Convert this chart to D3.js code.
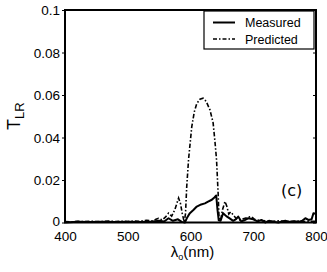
<!DOCTYPE html>
<html>
<head>
<meta charset="utf-8">
<script src="https://cdn.jsdelivr.net/npm/d3@7"></script>
<style>
  body { margin: 0; background: #fff; }
  svg { display: block; font-family: "Liberation Sans", Arial, sans-serif; }
  .axis path, .axis line { stroke: #000; }
  .tick text { font-size: 13.5px; fill: #000; }
</style>
</head>
<body>
<div id="chart"></div>
<script>
// wavelength (nm) and transmission values
const measuredX = [400, 420, 440, 460, 480, 500, 520, 540, 550, 558, 565, 572, 580, 586, 591, 595, 599, 605, 610, 617, 623, 628, 634, 638, 641, 643, 645, 648, 652, 657, 663, 668, 672, 676, 681, 687, 692, 700, 707, 713, 719, 725, 730, 735, 740, 746, 751, 758, 765, 772, 778, 783, 788, 793, 796, 800];
const measuredY = [0, 0.0003, 0.0002, 0.0004, 0.0002, 0.0003, 0.0002, 0.0005, 0.0008, 0.0005, 0.002, 0.0008, 0.0015, 0.0003, 0, 0.0025, 0.0044, 0.006, 0.0075, 0.0085, 0.009, 0.0098, 0.0107, 0.0118, 0.0127, 0.006, 0.001, 0.0008, 0.0044, 0.003, 0.0018, 0.0008, 0.0015, 0.0028, 0.0005, 0.0012, 0.002, 0.0015, 0.0005, 0.0012, 0, 0.0008, 0.0005, 0.0002, 0, 0.0005, 0.0008, 0.0003, 0.0006, 0.0003, 0.0008, 0.002, 0.0012, 0.0015, 0.0044, 0.004];

const predictedX = [400, 410, 420, 430, 440, 450, 460, 470, 480, 490, 500, 510, 520, 530, 540, 545, 549, 555, 560, 565, 570, 575, 581, 584, 587, 590, 592, 594, 597, 602, 606, 610, 615, 620, 625, 631, 636, 639, 641.5, 644, 645.5, 648, 651, 655, 658, 661, 664, 668, 673, 678, 682, 687, 692, 697, 702, 710, 720, 730, 740, 750, 760, 770, 780, 790, 800];
const predictedY = [0.0005, 0.0003, 0.0006, 0.0004, 0.0006, 0.0004, 0.0005, 0.0007, 0.0004, 0.0006, 0.0005, 0.0007, 0.0006, 0.001, 0.0008, 0.0015, 0.002, 0.0012, 0.0025, 0.0044, 0.003, 0.006, 0.0115, 0.009, 0.004, 0.0003, 0.004, 0.017, 0.03, 0.045, 0.052, 0.056, 0.058, 0.0585, 0.057, 0.053, 0.047, 0.038, 0.0295, 0.014, 0.002, 0.001, 0.006, 0.0099, 0.0075, 0.004, 0.005, 0.0036, 0.0018, 0.0012, 0.0015, 0.002, 0.0025, 0.0028, 0.0015, 0.001, 0.0008, 0.0005, 0.0008, 0.0006, 0.0004, 0.0007, 0.0005, 0.0006, 0.0005];

const xTicks = [400, 500, 600, 700, 800];
const yTicks = [0, 0.02, 0.04, 0.06, 0.08, 0.1];
const yTickLabels = ['0', '0.02', '0.04', '0.06', '0.08', '0.1'];
const legendLabels = ['Measured', 'Predicted'];

const W = 327, H = 272;
const margin = { top: 10, right: 11, bottom: 49.5, left: 65 };
const width = W - margin.left - margin.right;
const height = H - margin.top - margin.bottom;

const svg = d3.select('#chart').append('svg')
  .attr('width', W)
  .attr('height', H);

const g = svg.append('g')
  .attr('transform', `translate(${margin.left},${margin.top})`);

const x = d3.scaleLinear().domain([400, 800]).range([0, width]);
const y = d3.scaleLinear().domain([0, 0.1]).range([height, 0]);

// curves
const line = d3.line()
  .x(d => x(d[0]))
  .y(d => y(d[1]));

g.append('path')
  .datum(predictedX.map((v, i) => [v, predictedY[i]]))
  .attr('fill', 'none')
  .attr('stroke', '#000')
  .attr('stroke-width', 1.6)
  .attr('stroke-dasharray', '4.5,2,1.5,2')
  .attr('d', line);

g.append('path')
  .datum(measuredX.map((v, i) => [v, measuredY[i]]))
  .attr('fill', 'none')
  .attr('stroke', '#000')
  .attr('stroke-width', 2)
  .attr('stroke-linejoin', 'round')
  .attr('d', line);

// axes
const xAxis = g.append('g')
  .attr('class', 'axis')
  .attr('transform', `translate(0,${height})`)
  .call(d3.axisBottom(x).tickValues(xTicks).tickSize(0).tickPadding(9).tickFormat(d3.format('d')));
xAxis.select('.domain').remove();

const yAxis = g.append('g')
  .attr('class', 'axis')
  .call(d3.axisLeft(y).tickValues(yTicks).tickSize(3).tickPadding(2)
    .tickFormat((d, i) => yTickLabels[i]));
yAxis.select('.domain').remove();
yAxis.selectAll('.tick text').attr('dy', (d, i) => i === 0 ? '0.2em' : '0.36em');

// right-side ticks pointing inward
g.append('g')
  .attr('class', 'axis')
  .attr('transform', `translate(${width},0)`)
  .call(d3.axisRight(y).tickValues(yTicks).tickSize(-3).tickFormat(''))
  .select('.domain').remove();

// frame
g.append('rect')
  .attr('width', width)
  .attr('height', height)
  .attr('fill', 'none')
  .attr('stroke', '#000')
  .attr('stroke-width', 2);

// axis labels
const yl = svg.append('text')
  .attr('transform', `translate(20,${margin.top + height / 2}) rotate(-90)`)
  .attr('text-anchor', 'middle')
  .style('font-size', '18px');
yl.append('tspan').text('T');
yl.append('tspan').attr('dy', 4).style('font-size', '13px').text('LR');

const xl = svg.append('text')
  .attr('x', margin.left + width / 2 + 2)
  .attr('y', 257)
  .attr('text-anchor', 'middle')
  .style('font-size', '15px');
xl.append('tspan').text('λ');
xl.append('tspan').attr('dy', 3).style('font-size', '9px').text('o');
xl.append('tspan').attr('dy', -3).text('(nm)');

// panel tag
svg.append('text')
  .attr('x', 281)
  .attr('y', 196)
  .style('font-size', '16px')
  .style('font-family', '"DejaVu Sans", sans-serif')
  .text('(c)');

// legend
const legend = svg.append('g').attr('transform', 'translate(204,11)');
legend.append('rect')
  .attr('width', 110)
  .attr('height', 38)
  .attr('fill', '#fff')
  .attr('stroke', '#000')
  .attr('stroke-width', 1.2);

legendLabels.forEach((lab, i) => {
  const ly = 11.5 + i * 16.5;
  legend.append('line')
    .attr('x1', 9).attr('x2', 31)
    .attr('y1', ly).attr('y2', ly)
    .attr('stroke', '#000')
    .attr('stroke-width', i === 0 ? 2 : 1.4)
    .attr('stroke-dasharray', i === 0 ? null : '4,2,1.5,2');
  legend.append('text')
    .attr('x', 41)
    .attr('y', ly + 4.5)
    .style('font-size', '12.5px')
    .text(lab);
});
</script>
</body>
</html>
